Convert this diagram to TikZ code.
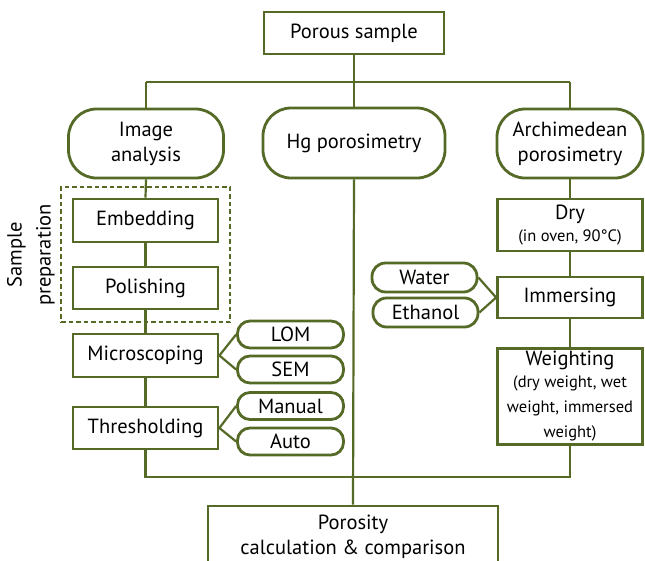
\documentclass[tikz,border=0pt]{standalone}
\usepackage{fontspec}
\setmainfont{PT Sans}
\definecolor{lineg}{RGB}{85,106,38}
\newcommand{\subfont}{\fontsize{16.5}{19}\selectfont}
\tikzset{
  base/.style={draw=lineg, line width=2.8pt, fill=white, align=center, inner sep=0pt, text=black, font=\fontsize{20.5}{25}\selectfont},
  rbox/.style={base, rectangle},
  bigpill/.style={base, rounded corners=28pt},
  smallpill/.style={base, rounded corners=12.5pt, minimum width=106pt, minimum height=27pt},
  conn/.style={draw=lineg, line width=2.2pt},
  dashbox/.style={draw=lineg, line width=1.4pt, dash pattern=on 4.5pt off 3pt}
}
\begin{document}
\begin{tikzpicture}[x=1pt,y=-1pt]
\clip (0,0) rectangle (645,560);
\fill[white] (0,0) rectangle (645,560);

% top
\node[rbox, minimum width=180pt, minimum height=42pt] (porous) at (354,33) {Porous sample};
\node[bigpill, minimum width=155pt, minimum height=69pt] (img) at (146,143.5) {Image\\analysis};
\node[bigpill, minimum width=182pt, minimum height=70pt] (hg) at (354,143) {Hg porosimetry};
\node[bigpill, minimum width=146pt, minimum height=69pt] (arch) at (570,143.5) {Archimedean\\porosimetry};

\coordinate (tl) at (146,82);
\coordinate (tr) at (570,82);
\draw[conn] (porous.south) -- (hg.north);
\draw[conn] (tl) -- (tr);
\draw[conn] (tl) -- (img.north);
\draw[conn] (tr) -- (arch.north);

% left column
\node[dashbox, minimum width=169pt, minimum height=135pt, inner sep=0pt] (prep) at (145.5,254.5) {};
\node[rotate=90, align=center, font=\fontsize{20.5}{29}\selectfont] (preplabel) at (31,255) {Sample\\preparation};
\node[rbox, minimum width=145pt, minimum height=43pt] (emb) at (145.5,220.5) {Embedding};
\node[rbox, minimum width=145pt, minimum height=42pt] (pol) at (145.5,288) {Polishing};
\node[rbox, minimum width=145pt, minimum height=43pt] (mic) at (145.5,355.5) {Microscoping};
\node[rbox, minimum width=145pt, minimum height=42pt] (thr) at (145.5,428) {Thresholding};

\node[smallpill] (lom) at (290.5,334.5) {LOM};
\node[smallpill] (sem) at (290.5,369.5) {SEM};
\node[smallpill] (man) at (290.5,406) {Manual};
\node[smallpill] (auto) at (290.5,441.5) {Auto};

\draw[conn] (img.south) -- (emb.north);
\draw[conn] (emb.south) -- (pol.north);
\draw[conn] (pol.south) -- (mic.north);
\draw[conn] (mic.south) -- (thr.north);
\draw[conn] (mic.east) -- (lom.west);
\draw[conn] (mic.east) -- (sem.west);
\draw[conn] (thr.east) -- (man.west);
\draw[conn] (thr.east) -- (auto.west);

% right column
\node[rbox, minimum width=145pt, minimum height=52pt] (dry) at (570,225) {Dry\\[-3pt]\subfont (in oven, 90°C)};
\node[rbox, minimum width=145pt, minimum height=41pt] (imm) at (570,297.5) {Immersing};
\node[rbox, minimum width=145pt, minimum height=96pt] (wgt) at (570,396.5) {Weighting\\[-3pt]\subfont (dry weight, wet\\\subfont weight, immersed\\\subfont weight)};
\node[smallpill, minimum width=105pt, minimum height=29pt, rounded corners=13.5pt] (water) at (424.5,277.5) {Water};
\node[smallpill, minimum width=105pt, minimum height=29pt, rounded corners=13.5pt] (eth) at (425.5,312.5) {Ethanol};

\draw[conn] (arch.south) -- (dry.north);
\draw[conn] (dry.south) -- (imm.north);
\draw[conn] (imm.south) -- (wgt.north);
\draw[conn] (imm.west) -- (water.east);
\draw[conn] (imm.west) -- (eth.east);

% bottom
\node[rbox, minimum width=290pt, minimum height=62pt] (poro) at (353,537) {Porosity\\calculation \& comparison};
\coordinate (br) at (570,477);
\draw[conn] (thr.south) |- (br) -- (wgt.south);
\draw[conn] (hg.south) -- (poro.north);
\end{tikzpicture}
\end{document}
